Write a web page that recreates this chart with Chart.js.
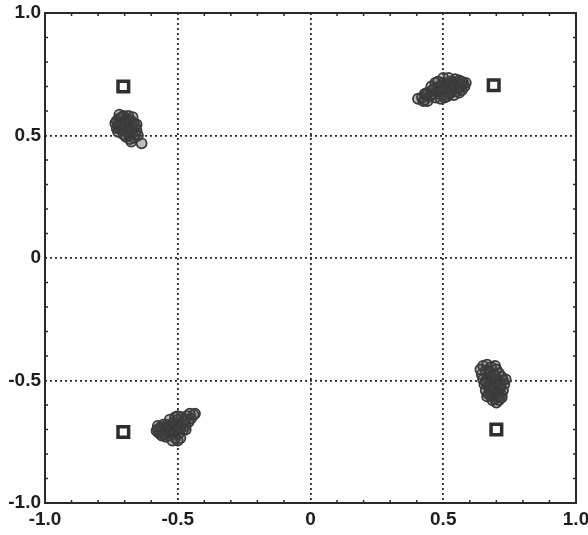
<!DOCTYPE html>
<html>
<head>
<meta charset="utf-8">
<title>Constellation scatter</title>
<script src="https://cdn.jsdelivr.net/npm/chart.js@4.4.1/dist/chart.umd.min.js"></script>
<style>
  html, body { margin: 0; padding: 0; background: #fff; }
  #wrap { width: 588px; height: 535px; }
</style>
</head>
<body>
<div id="wrap"><canvas id="scatter"></canvas></div>
<script>
// ========================================
// DATA
// ========================================

// Ideal constellation points (squares)
const refPoints = [
    [-0.705, 0.70], [0.69, 0.705], [-0.705, -0.71], [0.70, -0.70]
];

// Received symbol clusters (circles)
const clusterTopRight = [
    [0.405,0.650],[0.42,0.655],[0.43,0.645],[0.435,0.665],[0.44,0.675],[0.45,0.66],[0.455,0.68],
    [0.46,0.67],[0.465,0.69],[0.47,0.655],[0.475,0.68],[0.48,0.695],[0.485,0.67],[0.49,0.705],
    [0.495,0.685],[0.50,0.715],[0.50,0.665],[0.505,0.70],[0.51,0.68],[0.515,0.71],[0.52,0.69],
    [0.525,0.72],[0.53,0.675],[0.53,0.70],[0.535,0.715],[0.54,0.69],[0.545,0.705],[0.55,0.72],
    [0.55,0.68],[0.555,0.695],[0.56,0.71],[0.565,0.70],[0.57,0.685],[0.575,0.715],[0.58,0.70],
    [0.49,0.65],[0.47,0.715],[0.515,0.66],[0.44,0.64],[0.545,0.73],
    [0.525,0.70],[0.535,0.69],[0.545,0.695],[0.555,0.71],[0.51,0.695],[0.52,0.705],[0.54,0.705],
    [0.56,0.695],[0.53,0.685],[0.50,0.69],[0.49,0.68],[0.46,0.685],[0.585,0.715],
    [0.50,0.735],[0.52,0.735],[0.48,0.72],[0.56,0.725],[0.54,0.665],[0.52,0.67],[0.56,0.675],
    [0.425,0.64],[0.43,0.67],[0.455,0.70],[0.505,0.655],[0.57,0.72]
];
const clusterTopLeft = [
    [-0.73,0.56],[-0.725,0.545],[-0.72,0.57],[-0.72,0.53],[-0.715,0.555],[-0.71,0.54],[-0.71,0.575],
    [-0.705,0.52],[-0.70,0.56],[-0.70,0.535],[-0.695,0.55],[-0.69,0.51],[-0.69,0.57],[-0.685,0.525],
    [-0.68,0.545],[-0.68,0.50],[-0.675,0.56],[-0.67,0.515],[-0.67,0.535],[-0.665,0.55],[-0.66,0.505],
    [-0.665,0.49],[-0.68,0.485],[-0.695,0.495],[-0.725,0.515],[-0.73,0.53],[-0.705,0.58],[-0.686,0.58],
    [-0.636,0.468],[-0.655,0.52],
    [-0.70,0.545],[-0.69,0.535],[-0.685,0.555],[-0.71,0.525],[-0.695,0.565],[-0.675,0.525],
    [-0.715,0.545],[-0.705,0.505],[-0.66,0.535],[-0.65,0.50],[-0.735,0.55],
    [-0.72,0.585],[-0.67,0.575],[-0.655,0.545],[-0.675,0.475]
];
const clusterBottomLeft = [
    [-0.575,-0.70],[-0.57,-0.715],[-0.565,-0.69],[-0.56,-0.705],[-0.555,-0.72],[-0.55,-0.695],
    [-0.545,-0.71],[-0.54,-0.68],[-0.535,-0.725],[-0.53,-0.70],[-0.525,-0.685],[-0.52,-0.715],
    [-0.515,-0.67],[-0.51,-0.735],[-0.505,-0.695],[-0.50,-0.66],[-0.495,-0.715],[-0.49,-0.68],
    [-0.485,-0.65],[-0.48,-0.70],[-0.475,-0.665],[-0.47,-0.685],[-0.465,-0.645],[-0.46,-0.67],
    [-0.45,-0.655],[-0.44,-0.64],[-0.435,-0.635],[-0.555,-0.68],[-0.545,-0.73],[-0.52,-0.745],
    [-0.53,-0.66],[-0.51,-0.65],[-0.49,-0.735],[-0.5,-0.745],
    [-0.56,-0.695],[-0.545,-0.70],[-0.535,-0.69],[-0.525,-0.70],[-0.515,-0.705],[-0.51,-0.685],
    [-0.50,-0.70],[-0.49,-0.695],[-0.48,-0.675],[-0.47,-0.66],[-0.565,-0.71],[-0.58,-0.705],
    [-0.575,-0.685],[-0.56,-0.725],[-0.50,-0.645],[-0.455,-0.635],[-0.47,-0.70]
];
const clusterBottomRight = [
    [0.65,-0.44],[0.665,-0.435],[0.68,-0.445],[0.695,-0.44],[0.70,-0.455],[0.66,-0.46],[0.645,-0.475],
    [0.675,-0.465],[0.69,-0.475],[0.71,-0.47],[0.72,-0.485],[0.65,-0.495],[0.665,-0.49],[0.68,-0.50],
    [0.695,-0.495],[0.71,-0.505],[0.725,-0.50],[0.73,-0.515],[0.655,-0.515],[0.67,-0.52],[0.685,-0.525],
    [0.70,-0.52],[0.715,-0.53],[0.725,-0.54],[0.66,-0.54],[0.675,-0.545],[0.69,-0.55],[0.705,-0.555],
    [0.72,-0.56],[0.68,-0.565],[0.695,-0.575],[0.71,-0.58],[0.70,-0.59],[0.685,-0.58],[0.67,-0.555],
    [0.685,-0.51],[0.70,-0.505],[0.69,-0.535],[0.705,-0.54],[0.675,-0.53],[0.695,-0.56],[0.71,-0.565],
    [0.68,-0.485],[0.695,-0.48],[0.715,-0.515],[0.66,-0.505],
    [0.735,-0.495],[0.64,-0.455],[0.72,-0.57],[0.665,-0.565]
];

// Axis ticks
const majorTicks = [-1, -0.5, 0, 0.5, 1];
const tickLabels = ['-1.0', '-0.5', '0', '0.5', '1.0'];
const minorTicks = [-0.9,-0.8,-0.7,-0.6,-0.4,-0.3,-0.2,-0.1,0.1,0.2,0.3,0.4,0.6,0.7,0.8,0.9];

// ========================================
// HELPERS
// ========================================

const INK = '#2a2a2a';

function toXY(list) {
    return list.map(p => ({ x: p[0], y: p[1] }));
}

function tickLabel(value) {
    const i = majorTicks.findIndex(t => Math.abs(t - value) < 1e-9);
    return i >= 0 ? tickLabels[i] : '';
}

// dotted grid only on the inner major ticks
function gridColor(ctx) {
    const v = ctx.tick ? ctx.tick.value : 0;
    return Math.abs(Math.abs(v) - 1) < 1e-9 ? 'rgba(0,0,0,0)' : INK;
}

// Frame box + small inward minor ticks on all four sides
const framePlugin = {
    id: 'frame',
    afterDraw(chart) {
        const { ctx, chartArea: a, scales } = chart;
        ctx.save();
        ctx.strokeStyle = INK;
        ctx.lineWidth = 1.5;
        minorTicks.forEach(t => {
            const px = scales.x.getPixelForValue(t);
            const py = scales.y.getPixelForValue(t);
            ctx.beginPath();
            ctx.moveTo(px, a.bottom); ctx.lineTo(px, a.bottom - 3);
            ctx.moveTo(px, a.top); ctx.lineTo(px, a.top + 3);
            ctx.moveTo(a.left, py); ctx.lineTo(a.left + 3, py);
            ctx.moveTo(a.right, py); ctx.lineTo(a.right - 3, py);
            ctx.stroke();
        });
        ctx.lineWidth = 2;
        ctx.strokeRect(a.left, a.top, a.right - a.left, a.bottom - a.top);
        ctx.restore();
    }
};

function clusterSet(list) {
    return {
        data: toXY(list),
        pointStyle: 'circle',
        pointRadius: 5,
        borderWidth: 1.8,
        borderColor: '#3a3a3a',
        backgroundColor: 'rgba(70,70,70,0.35)'
    };
}

// ========================================
// CHART
// ========================================

function initScatter() {
    const ctx = document.getElementById('scatter').getContext('2d');
    const tickFont = { family: '"Liberation Sans", Arial, sans-serif', size: 19, weight: 'bold' };

    new Chart(ctx, {
        type: 'scatter',
        data: {
            datasets: [
                clusterSet(clusterTopRight),
                clusterSet(clusterTopLeft),
                clusterSet(clusterBottomLeft),
                clusterSet(clusterBottomRight),
                {
                    data: toXY(refPoints),
                    pointStyle: 'rect',
                    pointRadius: 7.5,
                    borderWidth: 3.5,
                    borderColor: '#2e2e2e',
                    backgroundColor: '#fff'
                }
            ]
        },
        options: {
            responsive: true,
            maintainAspectRatio: false,
            animation: false,
            layout: { padding: { top: 13, right: 12, left: 0, bottom: 0 } },
            plugins: {
                legend: { display: false },
                tooltip: { enabled: false }
            },
            scales: {
                x: {
                    type: 'linear',
                    min: -1, max: 1,
                    afterFit: s => { s.height = 32; s.paddingLeft = 0; s.paddingRight = 0; },
                    ticks: { stepSize: 0.5, callback: tickLabel, color: '#1e1e1e', font: tickFont, padding: 5, maxRotation: 0 },
                    grid: { color: gridColor, lineWidth: 1.8, drawTicks: false },
                    border: { display: false, dash: [2, 3] }
                },
                y: {
                    type: 'linear',
                    min: -1, max: 1,
                    afterFit: s => { s.width = 45; s.paddingTop = 0; s.paddingBottom = 0; },
                    ticks: { stepSize: 0.5, callback: tickLabel, color: '#1e1e1e', font: tickFont, padding: 4 },
                    grid: { color: gridColor, lineWidth: 1.8, drawTicks: false },
                    border: { display: false, dash: [2, 3] }
                }
            }
        },
        plugins: [framePlugin]
    });
}

document.addEventListener('DOMContentLoaded', () => {
    initScatter();
});
</script>
</body>
</html>
